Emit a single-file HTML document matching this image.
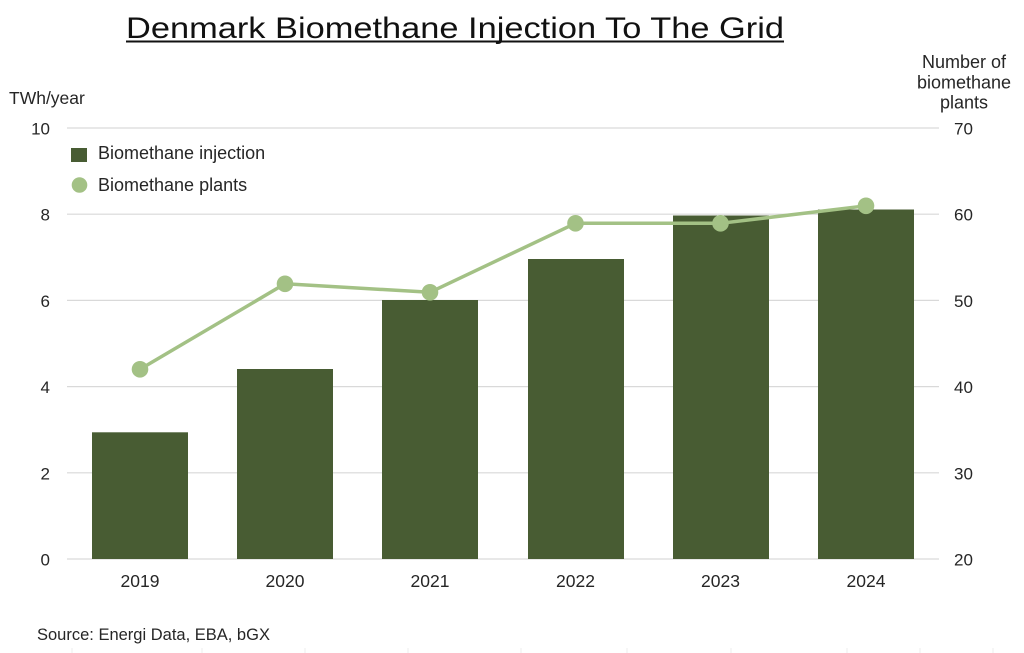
<!DOCTYPE html>
<html>
<head>
<meta charset="utf-8">
<style>
  html, body { margin: 0; padding: 0; background: #ffffff; }
  svg { display: block; }
  text { font-family: "Liberation Sans", Arial, sans-serif; fill: #262626; }
</style>
</head>
<body>
<svg width="1024" height="653" viewBox="0 0 1024 653" xmlns="http://www.w3.org/2000/svg">
  <rect x="0" y="0" width="1024" height="653" fill="#ffffff"/>

  <!-- Title -->
  <text x="126" y="38" font-size="30" textLength="658" lengthAdjust="spacingAndGlyphs" style="fill:#111111">Denmark Biomethane Injection To The Grid</text>
  <rect x="126" y="40.5" width="658" height="2" fill="#111111"/>

  <!-- Gridlines -->
  <g stroke="#d9d9d9" stroke-width="1.2">
    <line x1="67" y1="128" x2="939" y2="128"/>
    <line x1="67" y1="214.2" x2="939" y2="214.2"/>
    <line x1="67" y1="300.4" x2="939" y2="300.4"/>
    <line x1="67" y1="386.6" x2="939" y2="386.6"/>
    <line x1="67" y1="472.8" x2="939" y2="472.8"/>
    <line x1="67" y1="559" x2="939" y2="559"/>
  </g>

  <!-- Bars -->
  <g fill="#485c33">
    <rect x="92" y="432.3" width="96" height="126.7"/>
    <rect x="237" y="369" width="96" height="190"/>
    <rect x="382" y="300" width="96" height="259"/>
    <rect x="528" y="259" width="96" height="300"/>
    <rect x="673" y="215.5" width="96" height="343.5"/>
    <rect x="818" y="209.5" width="96" height="349.5"/>
  </g>

  <!-- Line series -->
  <polyline points="140,369.3 285,283.8 430,292.3 575.5,223.3 720.5,223.3 866,205.8" fill="none" stroke="#a3c185" stroke-width="3.5" stroke-linejoin="round"/>
  <g fill="#a3c185">
    <circle cx="140" cy="369.3" r="8.3"/>
    <circle cx="285" cy="283.8" r="8.3"/>
    <circle cx="430" cy="292.3" r="8.3"/>
    <circle cx="575.5" cy="223.3" r="8.3"/>
    <circle cx="720.5" cy="223.3" r="8.3"/>
    <circle cx="866" cy="205.8" r="8.3"/>
  </g>

  <!-- Left axis -->
  <text x="9" y="104" font-size="17.5">TWh/year</text>
  <g font-size="17" text-anchor="end">
    <text x="50" y="134.5">10</text>
    <text x="50" y="220.7">8</text>
    <text x="50" y="306.9">6</text>
    <text x="50" y="393.1">4</text>
    <text x="50" y="479.3">2</text>
    <text x="50" y="565.5">0</text>
  </g>

  <!-- Right axis -->
  <g font-size="18" text-anchor="middle">
    <text x="964" y="68">Number of</text>
    <text x="964" y="88.5">biomethane</text>
    <text x="964" y="108.5">plants</text>
  </g>
  <g font-size="17" text-anchor="start">
    <text x="954" y="134.5">70</text>
    <text x="954" y="220.7">60</text>
    <text x="954" y="306.9">50</text>
    <text x="954" y="393.1">40</text>
    <text x="954" y="479.3">30</text>
    <text x="954" y="565.5">20</text>
  </g>

  <!-- X axis labels -->
  <g font-size="17.5" text-anchor="middle">
    <text x="140" y="587">2019</text>
    <text x="285" y="587">2020</text>
    <text x="430" y="587">2021</text>
    <text x="575.5" y="587">2022</text>
    <text x="720.5" y="587">2023</text>
    <text x="866" y="587">2024</text>
  </g>

  <!-- Legend -->
  <rect x="71" y="148" width="16" height="14" fill="#485c33"/>
  <text x="98" y="159" font-size="18">Biomethane injection</text>
  <circle cx="79.5" cy="185" r="7.8" fill="#a3c185"/>
  <text x="98" y="191" font-size="18">Biomethane plants</text>

  <!-- Source -->
  <text x="37" y="640" font-size="16.5">Source: Energi Data, EBA, bGX</text>

  <!-- faint bottom ticks -->
  <g stroke="#eeeeee" stroke-width="1">
    <line x1="72" y1="648" x2="72" y2="653"/>
    <line x1="202" y1="648" x2="202" y2="653"/>
    <line x1="305" y1="648" x2="305" y2="653"/>
    <line x1="408" y1="648" x2="408" y2="653"/>
    <line x1="521" y1="648" x2="521" y2="653"/>
    <line x1="627" y1="648" x2="627" y2="653"/>
    <line x1="731" y1="648" x2="731" y2="653"/>
    <line x1="847" y1="648" x2="847" y2="653"/>
    <line x1="920" y1="648" x2="920" y2="653"/>
    <line x1="993" y1="648" x2="993" y2="653"/>
  </g>
</svg>
</body>
</html>
